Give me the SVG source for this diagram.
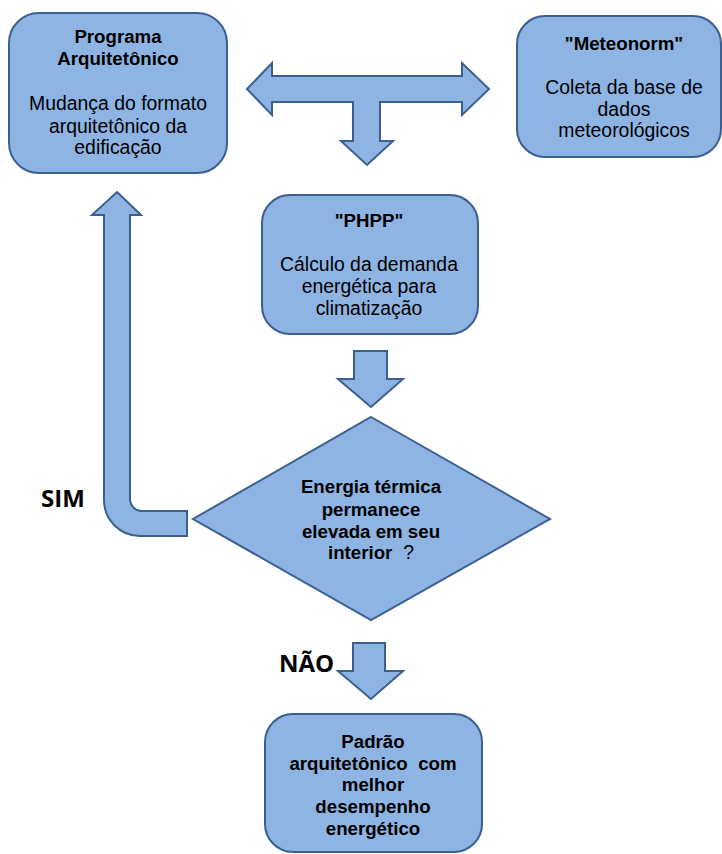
<svg xmlns="http://www.w3.org/2000/svg" width="722" height="854" viewBox="0 0 722 854">
<style>
.shape{fill:#8EB4E3;stroke:#3B6090;stroke-width:2;stroke-linejoin:miter}
.t{font-family:"Liberation Sans",Arial,sans-serif;font-size:19.4px;fill:#000;text-anchor:middle}
.b{font-weight:bold;font-size:18.7px}
.lbl{font-family:"Open Sans","Noto Sans",sans-serif;font-size:24px;font-weight:bold;fill:#000}
</style>
<rect width="722" height="854" fill="#fff"/>
<g id="connectors">
<path id="t-arrow" class="shape" d="M247,89 L272,63 L272,76 L462,76 L462,63 L489,89 L462,115 L462,102 L380,102 L380,141 L393,141 L367,165 L341,141 L353,141 L353,102 L272,102 L272,115 Z"/>
<path id="arrow-phpp-decision" class="shape" d="M354,351 L387,351 L387,379 L403,379 L371,407 L338,379 L354,379 Z"/>
<path id="arrow-sim" class="shape" d="M117,192 L141,215 L130,215 L130,499 A12,12 0 0 0 142,511 L187,511 L187,536 L140,536 A36,36 0 0 1 104,500 L104,215 L92,215 Z"/>
<path id="arrow-nao" class="shape" d="M353,643 L385,643 L385,671 L403,671 L371,699 L338,671 L353,671 Z"/>
</g>
<g id="node-programa">
<rect class="shape" x="9" y="13" width="218" height="160" rx="30" ry="30"/>
<text class="t b" x="118" y="43">Programa</text>
<text class="t b" x="118" y="65">Arquitetônico</text>
<text class="t" x="118" y="110">Mudança do formato</text>
<text class="t" x="118" y="133">arquitetônico da</text>
<text class="t" x="118" y="154">edificação</text>
</g>
<g id="node-meteonorm">
<rect class="shape" x="517" y="16" width="204" height="141" rx="28" ry="28"/>
<text class="t b" x="624" y="50">"Meteonorm"</text>
<text class="t" x="624" y="94">Coleta da base de</text>
<text class="t" x="624" y="116">dados</text>
<text class="t" x="624" y="137">meteorológicos</text>
</g>
<g id="node-phpp">
<rect class="shape" x="262" y="195" width="216" height="139" rx="28" ry="28"/>
<text class="t b" x="369" y="227">"PHPP"</text>
<text class="t" x="369" y="271">Cálculo da demanda</text>
<text class="t" x="369" y="293">energética para</text>
<text class="t" x="369" y="315">climatização</text>
</g>
<g id="node-decision">
<polygon class="shape" points="371,417 550,519 371,620 193,519"/>
<text class="t b" x="371" y="493">Energia térmica</text>
<text class="t b" x="371" y="516">permanece</text>
<text class="t b" x="371" y="538">elevada em seu</text>
<text class="t" x="371" y="559" xml:space="preserve"><tspan font-weight="bold" font-size="18.7px">interior</tspan>  ?</text>
</g>
<g id="node-padrao">
<rect class="shape" x="265" y="714" width="217" height="138" rx="28" ry="28"/>
<text class="t b" x="373" y="748">Padrão</text>
<text class="t b" x="373" y="770" xml:space="preserve">arquitetônico  com</text>
<text class="t b" x="373" y="791">melhor</text>
<text class="t b" x="373" y="813">desempenho</text>
<text class="t b" x="373" y="835">energético</text>
</g>
<g id="labels">
<text class="lbl" x="41" y="507">SIM</text>
<text class="lbl" x="279" y="672">NÃO</text>
</g>
</svg>
